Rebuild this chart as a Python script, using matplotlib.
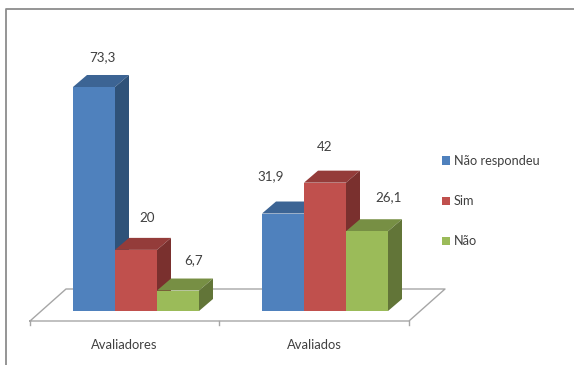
import matplotlib
matplotlib.use("Agg")
import matplotlib.pyplot as plt
from matplotlib.patches import Polygon

plt.rcParams['font.family'] = ['Lato', 'DejaVu Sans']

# dados
categorias = ["Avaliadores", "Avaliados"]
nao_respondeu = [73.3, 31.9]
sim = [20, 42]
nao = [6.7, 26.1]
rotulos_nao_respondeu = ["73,3", "31,9"]
rotulos_sim = ["20", "42"]
rotulos_nao = ["6,7", "26,1"]

# estilo de cada serie: frente, topo, lateral
cor_azul = ("#4F81BD", "#3C6494", "#2F5279")
cor_vermelho = ("#C0504D", "#943C3A", "#7A302E")
cor_verde = ("#9BBB59", "#778F44", "#627538")
cor_texto = "#404040"
cor_linha = "#A6A6A6"

largura_px, altura_px = 574, 365
px_x = 189.0    # pixels entre as categorias
px_y = 3.056    # pixels por unidade do eixo y
x0_px, y0_px = 136, 311

fig = plt.figure(figsize=(largura_px / 100, altura_px / 100), dpi=100)
ax = fig.add_axes([0, 0, 1, 1])
ax.set_xlim(-x0_px / px_x, (largura_px - x0_px) / px_x)
ax.set_ylim(-(altura_px - y0_px) / px_y, y0_px / px_y)
ax.axis("off")

w = 42 / px_x
dx = 14 / px_x
dy = 12 / px_y


def X(px):
    return (px - x0_px) / px_x


def Y(py):
    return (y0_px - py) / px_y


# moldura
ax.plot([X(6), X(6), X(574)], [Y(365), Y(9), Y(9)], color="#8C8C8C", lw=1.3, zorder=1)

# piso
ax.plot([X(30), X(66), X(445), X(409), X(30)], [Y(321), Y(289), Y(289), Y(321), Y(321)],
        color=cor_linha, lw=1, zorder=1)
for t in [30, 219, 409]:
    ax.plot([X(t), X(t)], [Y(321), Y(325)], color=cor_linha, lw=1, zorder=1)

series = [
    ("Não respondeu", nao_respondeu, cor_azul, -w),
    ("Sim", sim, cor_vermelho, 0),
    ("Não", nao, cor_verde, w),
]

z = 2
for nome, valores, cores, desl in series:
    for i, v in enumerate(valores):
        esq = i + desl - w / 2
        dir = esq + w
        ax.add_patch(Polygon([(esq, v), (dir, v), (dir + dx, v + dy), (esq + dx, v + dy)],
                             closed=True, fc=cores[1], ec="none", zorder=z))
        ax.add_patch(Polygon([(dir, 0), (dir + dx, dy), (dir + dx, v + dy), (dir, v)],
                             closed=True, fc=cores[2], ec="none", zorder=z))
    ax.bar([i + desl for i in range(len(valores))], valores, width=w,
           color=cores[0], label=nome, zorder=z + 0.5)
    z += 1

# rotulos de valor, colocados a mao como no original (dx, dy em pixels)
desl_rotulos = {
    "nr": [(8, 30), (-12, 37)],
    "s": [(11, 32), (0, 36)],
    "n": [(16, 30), (22, 34)],
}
for chave, valores, rotulos, desl in [
    ("nr", nao_respondeu, rotulos_nao_respondeu, -w),
    ("s", sim, rotulos_sim, 0),
    ("n", nao, rotulos_nao, w),
]:
    for i, v in enumerate(valores):
        ox, oy = desl_rotulos[chave][i]
        ax.text(i + desl + ox / px_x, v + oy / px_y, rotulos[i], ha="center", va="center",
                fontsize=9.6, color=cor_texto, zorder=10)

# rotulos das categorias
for pos, nome in zip([124.5, 314], categorias):
    ax.text(X(pos), Y(345), nome, ha="center", va="center", fontsize=9.4, color=cor_texto)

leg = ax.legend(loc="upper left", bbox_to_anchor=(442 / largura_px, 1 - 155 / altura_px),
                frameon=False, fontsize=9.2, labelcolor=cor_texto, handlelength=0.6,
                handleheight=0.6, handletextpad=0.3, labelspacing=2.2, borderpad=0,
                borderaxespad=0)

fig.savefig("out.png", dpi=100)
